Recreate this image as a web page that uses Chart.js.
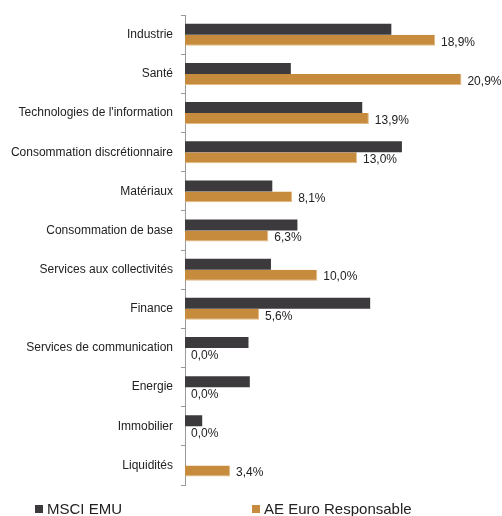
<!DOCTYPE html>
<html lang="fr">
<head>
<meta charset="utf-8">
<script src="https://cdn.jsdelivr.net/npm/chart.js@4/dist/chart.umd.min.js"></script>
<style>
  body { margin: 0; background: #fff; }
  #wrap { position: relative; width: 502px; height: 516px; }
  .leg { position: absolute; top: 500px; font: 15px "Liberation Sans", Arial, sans-serif; color: #222; line-height: 18px; }
  .leg i { display: inline-block; width: 8px; height: 8px; margin-right: 4px; vertical-align: 1px; }
</style>
</head>
<body>
<div id="wrap">
  <canvas id="sectorChart" width="502" height="516"></canvas>
  <div class="leg" style="left:35px"><i style="background:#3c3a3d"></i>MSCI EMU</div>
  <div class="leg" style="left:252px"><i style="background:#c68b3d"></i>AE Euro Responsable</div>
</div>
<script>
// categories
const sectors = [
    "Industrie", "Santé", "Technologies de l'information", "Consommation discrétionnaire",
    "Matériaux", "Consommation de base", "Services aux collectivités", "Finance",
    "Services de communication", "Energie", "Immobilier", "Liquidités"
];
// MSCI EMU weights
const msciEmu = [15.6, 8.0, 13.4, 16.4, 6.6, 8.5, 6.5, 14.0, 4.8, 4.9, 1.3, 0];
// fund weights
const aeEuro = [18.9, 20.9, 13.9, 13.0, 8.1, 6.3, 10.0, 5.6, 0.0, 0.0, 0.0, 3.4];

const fmt = v => v.toFixed(1).replace(".", ",") + "%";

// value labels after the fund bars
const valueLabels = {
    id: "valueLabels",
    afterDatasetsDraw(chart) {
        const ctx = chart.ctx;
        const meta = chart.getDatasetMeta(1);
        ctx.save();
        ctx.font = '12px "Liberation Sans", Arial, sans-serif';
        ctx.fillStyle = "#222";
        ctx.textAlign = "left";
        ctx.textBaseline = "middle";
        meta.data.forEach((bar, i) => {
            ctx.fillText(fmt(aeEuro[i]), bar.x + 6, bar.y + 2);
        });
        ctx.restore();
    }
};

const ctx = document.getElementById("sectorChart").getContext("2d");

new Chart(ctx, {
    type: "bar",
    data: {
        labels: sectors,
        datasets: [{
            label: "MSCI EMU",
            data: msciEmu,
            backgroundColor: "#3c3a3d",
            borderWidth: 0,
            categoryPercentage: 0.56,
            barPercentage: 1.0
        }, {
            label: "AE Euro Responsable",
            data: aeEuro,
            backgroundColor: "#c68b3d",
            borderColor: "#e3b984",
            borderWidth: { top: 0, right: 1, bottom: 1, left: 0 },
            categoryPercentage: 0.56,
            barPercentage: 1.0
        }]
    },
    options: {
        indexAxis: "y",
        responsive: false,
        animation: false,
        layout: { padding: { top: 11, bottom: 31, right: 26, left: 0 } },
        plugins: {
            legend: { display: false },
            tooltip: { enabled: false }
        },
        scales: {
            x: {
                display: false,
                min: 0,
                max: 22
            },
            y: {
                afterFit: s => { s.width = 185; },
                border: { display: true, color: "#999", width: 1 },
                grid: {
                    drawOnChartArea: false,
                    drawTicks: true,
                    tickLength: 4,
                    color: "#999",
                    offset: true
                },
                ticks: {
                    color: "#222",
                    padding: 8,
                    font: { family: '"Liberation Sans", Arial, sans-serif', size: 12 }
                }
            }
        }
    },
    plugins: [valueLabels]
});
</script>
</body>
</html>
